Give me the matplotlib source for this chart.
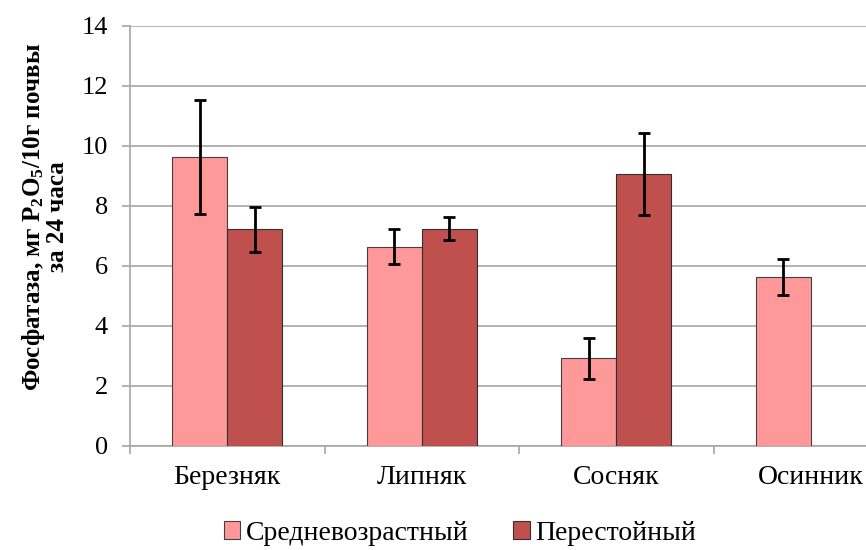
import numpy as np
import matplotlib
matplotlib.use("Agg")
import matplotlib.pyplot as plt

plt.rcParams['font.family'] = ['Liberation Serif', 'DejaVu Serif']
plt.rcParams['mathtext.fontset'] = 'custom'
plt.rcParams['mathtext.rm'] = 'Liberation Serif:bold'
plt.rcParams['mathtext.default'] = 'rm'

categories = ['Березняк', 'Липняк', 'Сосняк', 'Осинник']
series = ['Средневозрастный', 'Перестойный']
mid_age = [9.65, 6.65, 2.93, 5.62]
mid_err = [1.9, 0.57, 0.68, 0.6]
old_age = [7.22, 7.25, 9.06, np.nan]
old_err = [0.74, 0.37, 1.37, np.nan]

col_light = '#FF9999'
col_dark = '#C0504D'

fig = plt.figure(figsize=(8.66, 5.5), dpi=100)
ax = fig.add_axes([130/866, 1 - 446/550, 778/866, 420/550])

x = np.arange(len(categories))
w = 0.283
ax.bar(x - w/2, mid_age, w, color=col_light, edgecolor='#404040', linewidth=0.8,
       label=series[0], zorder=3)
ax.bar(x + w/2, old_age, w, color=col_dark, edgecolor='#303030', linewidth=0.8,
       label=series[1], zorder=3)
ax.errorbar(x - w/2, mid_age, yerr=mid_err, fmt='none', ecolor='black',
            elinewidth=2, capsize=4.5, capthick=2, zorder=4)
ax.errorbar(x + w/2, old_age, yerr=old_err, fmt='none', ecolor='black',
            elinewidth=2, capsize=4.5, capthick=2, zorder=4)

ax.set_xlim(-0.5, 3.5)
ax.set_ylim(0, 14)
ax.set_yticks(np.arange(0, 15, 2))
ax.yaxis.grid(True, color='#A6A6A6', linewidth=1.2, zorder=0)
ax.set_axisbelow(True)

ax.set_xticks(x)
ax.set_xticklabels(categories, fontsize=20)
ax.set_xticks(np.arange(-0.5, 3.6, 1), minor=True)
ax.tick_params(axis='x', which='major', length=0, pad=14)
ax.tick_params(axis='x', which='minor', length=6, color='#A6A6A6', width=1.2)
ax.tick_params(axis='y', length=6, color='#A6A6A6', width=1.2, labelsize=19, pad=10)

for s in ['top', 'right']:
    ax.spines[s].set_visible(False)
for s in ['left', 'bottom']:
    ax.spines[s].set_color('#A6A6A6')
    ax.spines[s].set_linewidth(1.2)

ax.set_ylabel('Фосфатаза, мг P$_2$O$_5$/10г почвы\nза 24 часа', fontsize=18,
              fontweight='bold', linespacing=0.95)
ax.yaxis.set_label_coords(-0.078, 0.545)

fig.legend(loc='center', bbox_to_anchor=(460/866, 1 - 533/550), ncol=2, frameon=False,
           fontsize=20, handlelength=0.6, handleheight=0.6, handletextpad=0.2,
           columnspacing=1.6)

fig.savefig('out.png', dpi=100)
